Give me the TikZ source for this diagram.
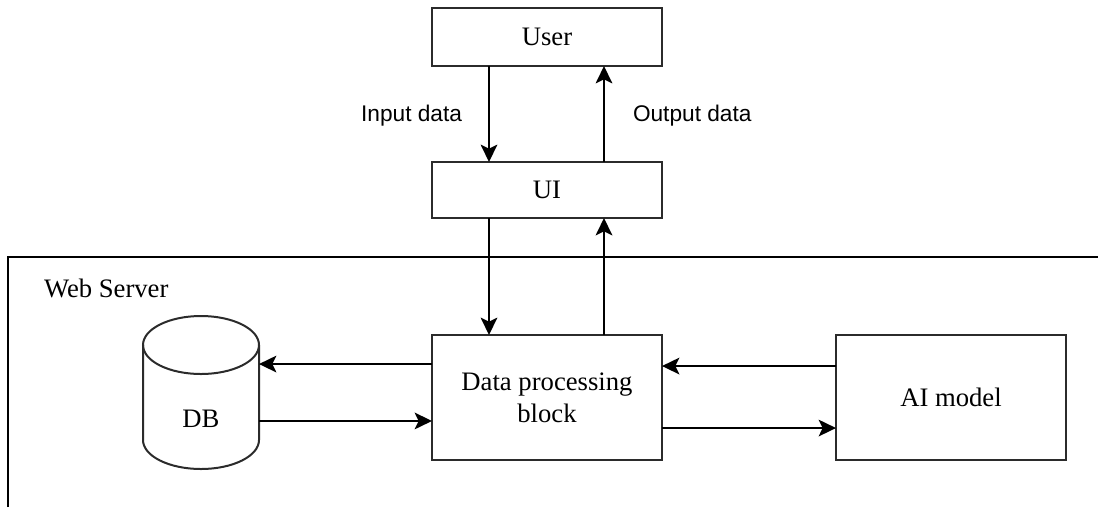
\documentclass[tikz,border=0pt]{standalone}
\usepackage{fontspec}
\setmainfont{Liberation Serif}
\newfontfamily\labelfont{Liberation Sans}
\usepackage{xcolor}
\usepackage{tikz}
\usetikzlibrary{calc,positioning,arrows.meta}
\definecolor{ginta}{gray}{0.0}
\definecolor{gborde}{gray}{0.17}

\begin{document}
\begin{tikzpicture}[x=0.75pt, y=-0.75pt, line width=1.5pt,
    font=\fontsize{20}{24}\selectfont,
    caja/.style={draw=gborde, line width=1.5pt, align=center, inner sep=0pt, outer sep=0pt, minimum width=172.5pt},
    flecha/.style={-{Stealth[length=13pt, width=12.5pt, inset=3pt]}, line width=1.5pt, ginta},
    etiq/.style={font=\labelfont\fontsize{17}{20}\selectfont, inner sep=0pt}]
  \useasboundingbox (0,0) rectangle (1098,507);
  % contenedor del servidor
  \draw[line width=1.5pt, ginta] (8,507) -- (8,257) -- (1098,257);
  \node[anchor=base west, inner sep=0pt] (server) at (43,297) {Web Server};
  \node[caja, minimum height=43.5pt] (user) at (547,37) {User};
  \node[caja, minimum height=42pt, below=72pt of user] (ui) {UI};
  \node[caja, minimum height=93.75pt, below=87.75pt of ui] (dpb) {Data processing\\block};
  \node[caja, minimum height=93.75pt, right=130.5pt of dpb] (ai) {AI model};
  \node[inner sep=0pt, outer sep=0pt, minimum width=87pt, minimum height=114.75pt] (db) at (201,392.5) {};
  \node[inner sep=0pt] (dblbl) at ([yshift=-20pt]db.center) {DB};
  % cilindro de la base de datos
  \draw[gborde] ([yshift=-21.75pt]db.north west) -- ([yshift=21.75pt]db.south west)
    arc[start angle=180, end angle=360, x radius=43.5pt, y radius=21.75pt]
    -- ([yshift=-21.75pt]db.north east);
  \draw[gborde] ([yshift=-21.75pt]db.north) ellipse [x radius=43.5pt, y radius=21.75pt];
  \draw[flecha] ([xshift=-43.5pt]user.south) -- ([xshift=-43.5pt]ui.north)
    node[etiq, midway, left=19.5pt, yshift=-1.5pt] (inlbl) {Input data};
  \draw[flecha] ([xshift=42.75pt]ui.north) -- ([xshift=42.75pt]user.south)
    node[etiq, midway, right=21pt, yshift=-1.5pt] (outlbl) {Output data};
  \draw[flecha] ([xshift=-43.5pt]ui.south) -- ([xshift=-43.5pt]dpb.north);
  \draw[flecha] ([xshift=42.75pt]dpb.north) -- ([xshift=42.75pt]ui.south);
  \draw[flecha] ([yshift=25.1pt]dpb.west) -- ([yshift=25.1pt]dpb.west -| db.east);
  \draw[flecha] ([yshift=-17.6pt]dpb.west -| db.east) -- ([yshift=-17.6pt]dpb.west);
  \draw[flecha] ([yshift=23.6pt]ai.west) -- ([yshift=23.6pt]ai.west -| dpb.east);
  \draw[flecha] ([yshift=-22.9pt]dpb.east) -- ([yshift=-22.9pt]dpb.east -| ai.west);
\end{tikzpicture}
\end{document}
